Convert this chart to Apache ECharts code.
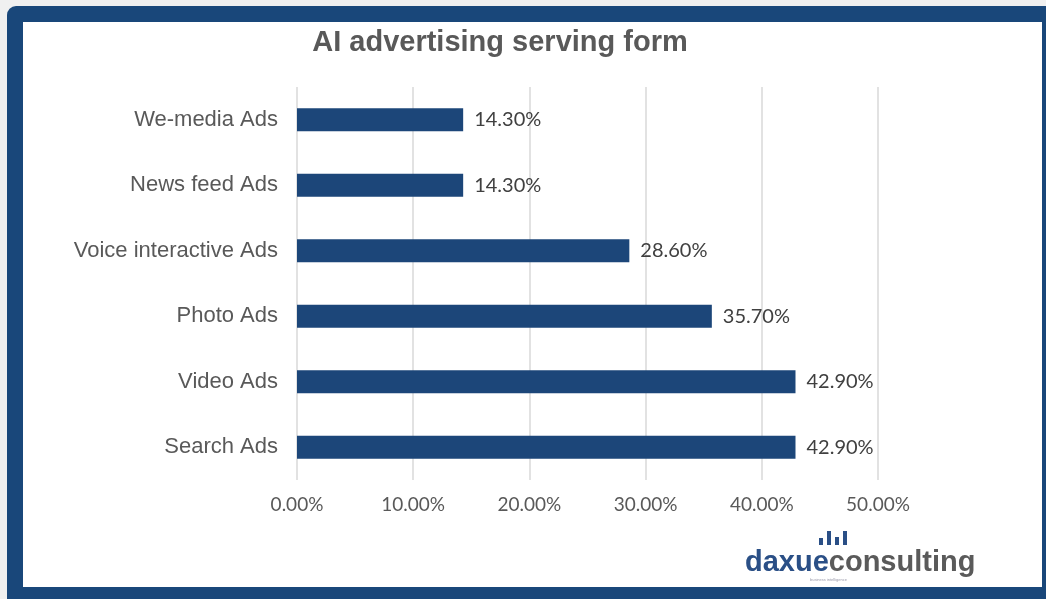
<!DOCTYPE html>
<html>
<head>
<meta charset="utf-8">
<script src="https://cdn.jsdelivr.net/npm/echarts@6/dist/echarts.min.js"></script>
<style>
  html, body { margin: 0; padding: 0; background: #f0f0f0; }
  #chart { width: 1046px; height: 599px; }
</style>
</head>
<body>
<div id="chart"></div>
<script>
// categories listed bottom -> top, as the category axis draws them
const CATEGORIES = ['Search Ads', 'Video Ads', 'Photo Ads', 'Voice interactive Ads', 'News feed Ads', 'We-media Ads'];
const SHARES = [42.9, 42.9, 35.7, 28.6, 14.3, 14.3];

const BLUE = '#1c4679';
const GREY = '#595959';
const SANS = '"Liberation Sans", Arial, sans-serif';
const NUM = 'Lato, "Open Sans", sans-serif';

const chart = echarts.init(document.getElementById('chart'));

chart.setOption({
  backgroundColor: '#f0f0f0',
  animation: false,
  title: {
    text: 'AI advertising serving form',
    left: 495, top: 23, textAlign: 'center',
    textStyle: { color: GREY, fontSize: 29, fontWeight: 'bold', fontFamily: SANS },
  },
  grid: { left: 297, right: 168, top: 87, bottom: 119 },
  xAxis: {
    type: 'value', min: 0, max: 50, interval: 10,
    axisLine: { show: false }, axisTick: { show: false },
    splitLine: { lineStyle: { color: '#d9d9d9', width: 1.5 } },
    axisLabel: {
      color: GREY, fontSize: 19, margin: 15, fontFamily: NUM,
      formatter: v => v.toFixed(2) + '%',
    },
  },
  yAxis: {
    type: 'category', data: CATEGORIES,
    axisLine: { show: false }, axisTick: { show: false },
    axisLabel: { color: GREY, fontSize: 22, margin: 19, fontFamily: SANS },
  },
  series: [{
    type: 'bar', data: SHARES, barWidth: 23,
    itemStyle: { color: BLUE },
    label: {
      show: true, position: 'right', distance: 11,
      color: '#404040', fontSize: 20, fontFamily: NUM,
      formatter: p => p.value.toFixed(2) + '%',
    },
  }],
  graphic: [
    { type: 'rect', z: -10, shape: { x: 7, y: 6, width: 1060, height: 620, r: 9 }, style: { fill: '#19477a' } },
    { type: 'rect', z: -9, shape: { x: 23, y: 22, width: 1019, height: 565 }, style: { fill: '#ffffff' } },
    // logo
    { type: 'rect', shape: { x: 819, y: 538, width: 4, height: 7 }, style: { fill: '#2a4f86' } },
    { type: 'rect', shape: { x: 827, y: 531, width: 4, height: 14 }, style: { fill: '#2a4f86' } },
    { type: 'rect', shape: { x: 835, y: 537, width: 4, height: 8 }, style: { fill: '#2a4f86' } },
    { type: 'rect', shape: { x: 843, y: 531, width: 4, height: 14 }, style: { fill: '#2a4f86' } },
    { type: 'text', style: {
        x: 745, y: 563, textVerticalAlign: 'middle',
        rich: {
          a: { fill: '#2a4f86', fontSize: 29, fontWeight: 'bold', fontFamily: SANS },
          b: { fill: '#5a5a5a', fontSize: 29, fontWeight: 'bold', fontFamily: SANS },
        },
        text: '{a|daxue}{b|consulting}',
    } },
    { type: 'text', style: { x: 810, y: 578, text: 'business intelligence', fill: '#9a9aaa', fontSize: 4 } },
  ],
});
</script>
</body>
</html>
